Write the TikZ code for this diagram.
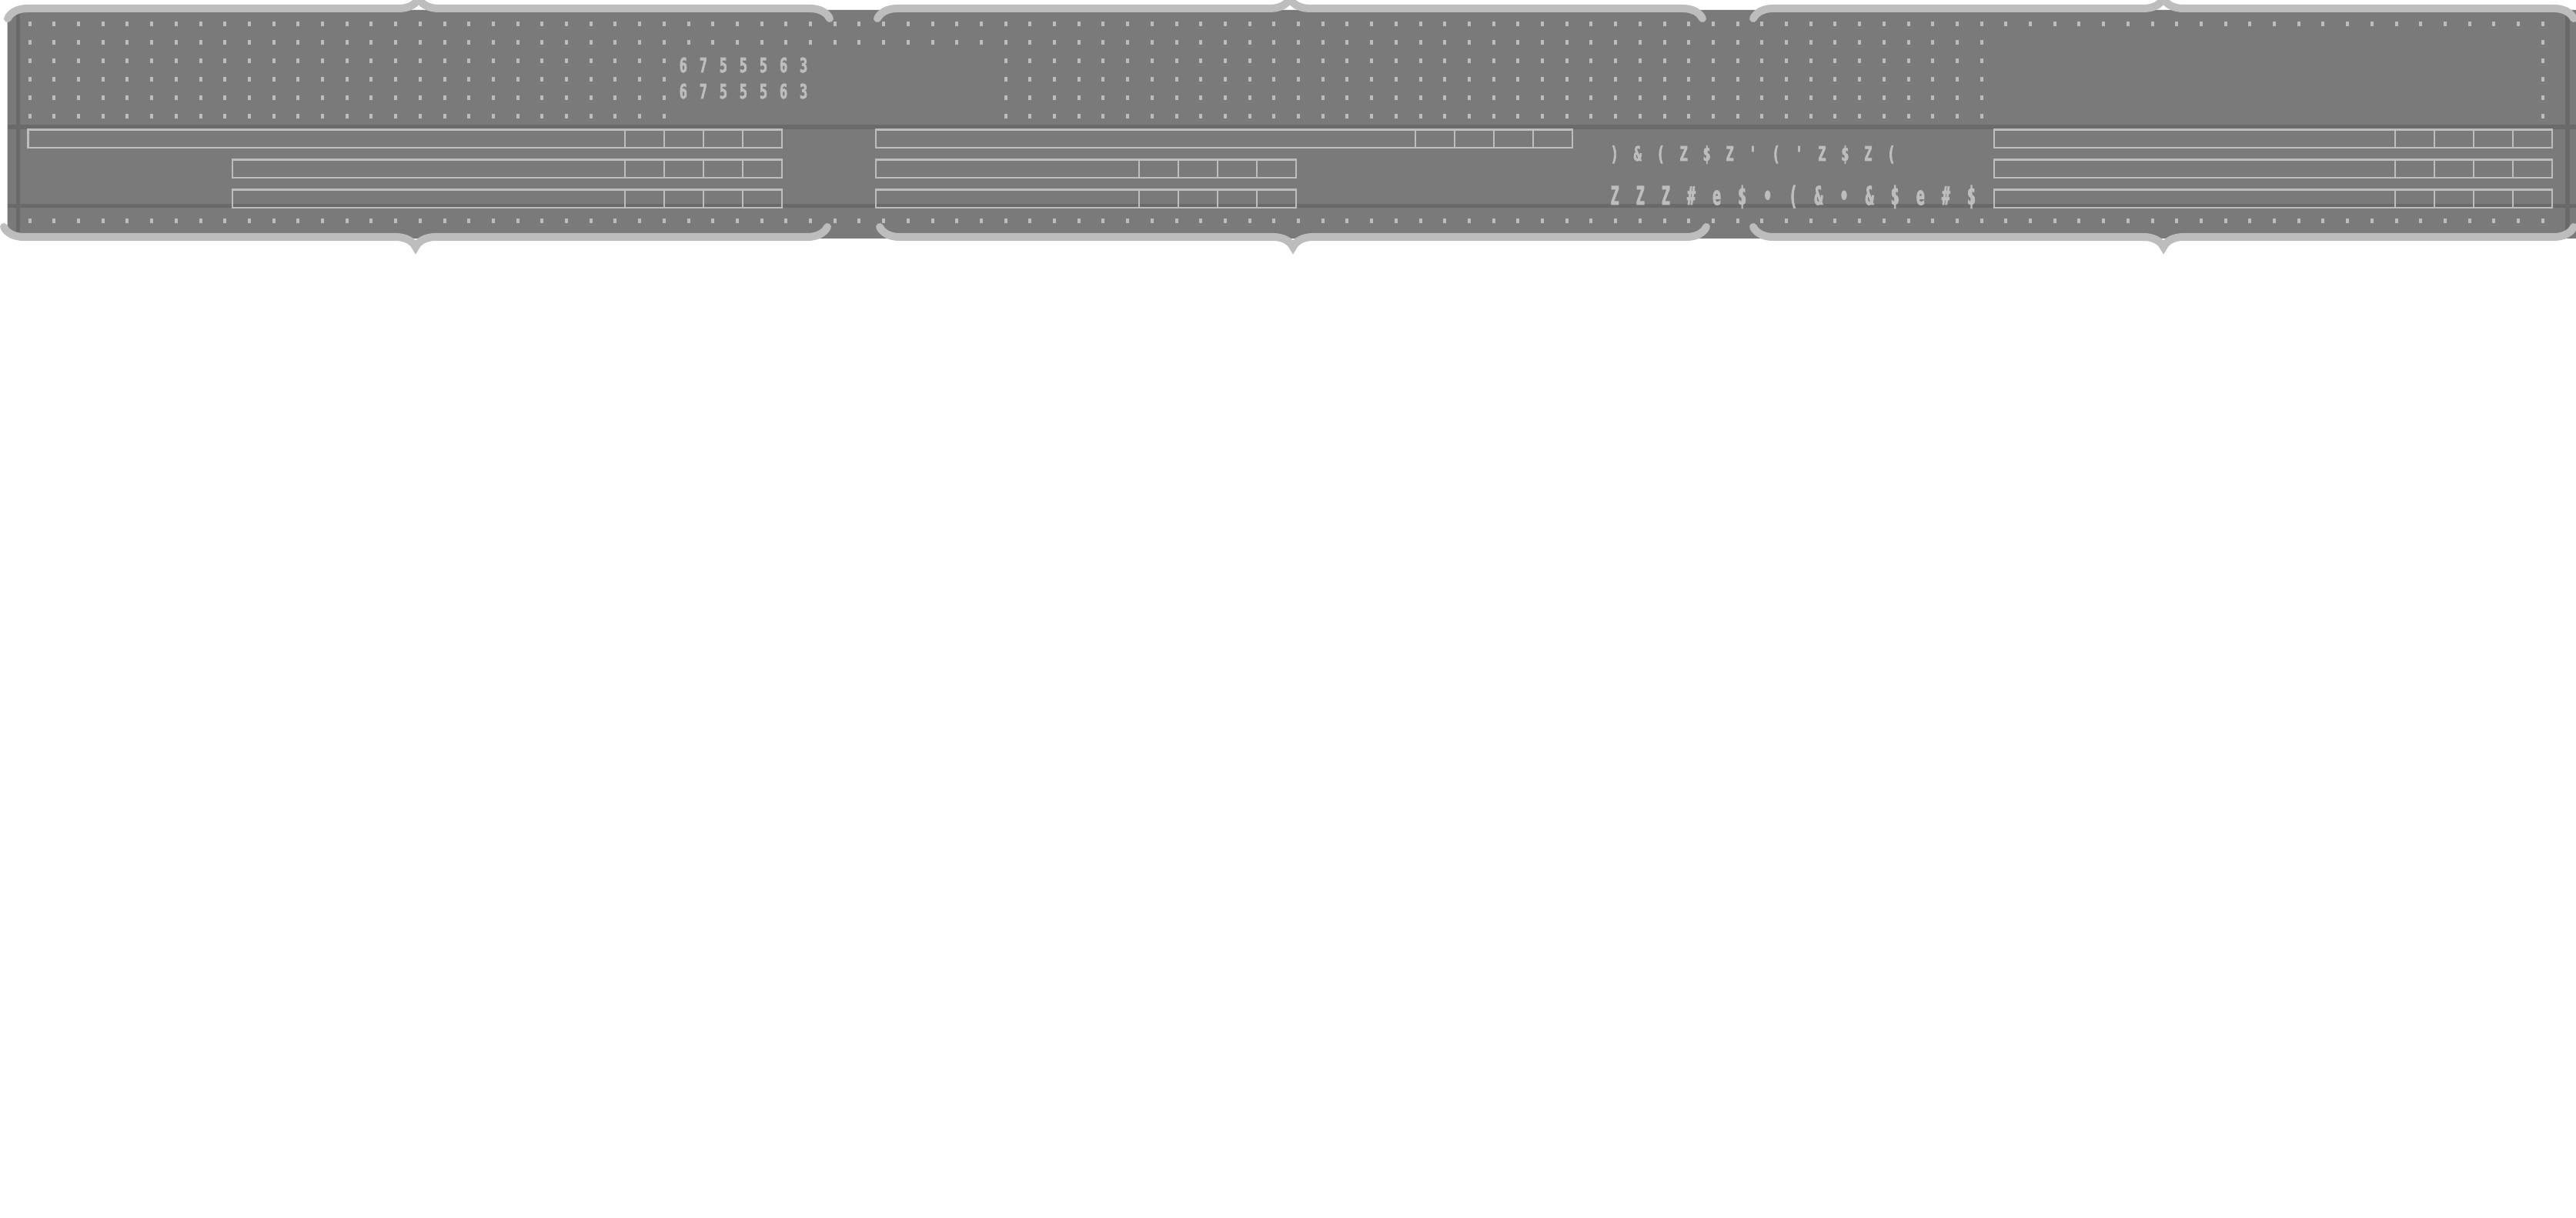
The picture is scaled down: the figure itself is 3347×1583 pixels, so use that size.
\documentclass[tikz,border=0pt]{standalone}
\usepackage{fontspec}
\usepackage{tikz}
\usetikzlibrary{decorations.pathreplacing,calc}
\newfontfamily\glyphfont{DejaVu Sans Mono}[FakeStretch=0.65,FakeBold=2.5]
\definecolor{panelgray}{HTML}{7A7A7A}
\definecolor{rulegray}{HTML}{6A6A6A}
\definecolor{inkgray}{HTML}{BDBDBD}

\begin{document}
\begin{tikzpicture}[x=0.01cm,y=-0.01cm,
        panelbrace/.style={draw=inkgray,line width=2.85pt,line cap=round,
            decorate,decoration={brace,amplitude=7.4pt}},
        barbox/.style={draw=inkgray,line width=0.77pt},
        dotmark/.style={fill=inkgray},
        darkrule/.style={draw=rulegray,line width=1.6pt},
        glyphs/.style={text=inkgray,inner sep=0pt,anchor=base west}]
            \useasboundingbox (0,0) rectangle (3347,1583);
            \fill[panelgray,rounded corners=4] (9.5,13) rectangle (3360,310);
            \draw[darkrule] (9.5,165) -- (3347,165);
            \draw[darkrule] (9.5,267.5) -- (3347,267.5);
            \draw[darkrule] (23.5,15) -- (23.5,308);
            \draw[darkrule] (3336,15) -- (3336,308);
            % rows of marks
            \foreach \i in {0,...,103} {
                \fill[dotmark] ({36.6+31.7*\i},28.5) rectangle ++(4,6);
                \fill[dotmark] ({36.6+31.7*\i},284) rectangle ++(4,6);
            }
            \foreach \i in {0,...,80,103} {
                \fill[dotmark] ({36.6+31.7*\i},52.5) rectangle ++(4,6);
            }
            \foreach \y in {76,100,124,148} {
                \foreach \i in {0,...,26,40,41,...,80,103} {
                    \fill[dotmark] ({36.6+31.7*\i},\y) rectangle ++(4,6);
                }
            }
            % bars with four cells
            \foreach \xa/\xb/\y in {36.5/1016/168.5, 302/1016/207.5, 302/1016/246.5,
                    1138/2043/168.5, 1138/1684/207.5, 1138/1684/246.5,
                    2591/3316/168.5, 2591/3316/207.5, 2591/3316/246.5} {
                \draw[barbox] (\xa,\y) rectangle (\xb,\y+23.5);
                \foreach \k in {1,2,3,4} {
                    \draw[barbox] (\xb-51*\k,\y) -- (\xb-51*\k,\y+23.5);
                }
            }
            % labels
            \node[glyphs,font=\glyphfont\bfseries\fontsize{7.4pt}{9pt}\selectfont\addfontfeatures{LetterSpace=61}]
                (countA) at (882,94) {6755563};
            \node[glyphs,font=\glyphfont\bfseries\fontsize{7.4pt}{9pt}\selectfont\addfontfeatures{LetterSpace=61}]
                (countB) at (882,128) {6755563};
            \node[glyphs,font=\glyphfont\bfseries\fontsize{7.4pt}{9pt}\selectfont\addfontfeatures{LetterSpace=76}]
                (codeA) at (2092,209) {)\&(Z\$Z'('Z\$Z(};
            \node[glyphs,font=\glyphfont\bfseries\fontsize{9.4pt}{11pt}\selectfont\addfontfeatures{FakeStretch=0.55,LetterSpace=67}]
                (codeB) at (2092,266) {ZZZ\#e\$•(\&•\&\$e\#\$};
            % braces above and below the panels
            \draw[panelbrace] (10,24) -- (1078,24);
            \draw[panelbrace] (1140,24) -- (2212,24);
            \draw[panelbrace] (2278,24) -- (3344,24);
            \draw[panelbrace] (1075,295) -- (5,295);
            \draw[panelbrace] (2217,295) -- (1143,295);
            \draw[panelbrace] (3344,295) -- (2278,295);
        \end{tikzpicture}
\end{document}
